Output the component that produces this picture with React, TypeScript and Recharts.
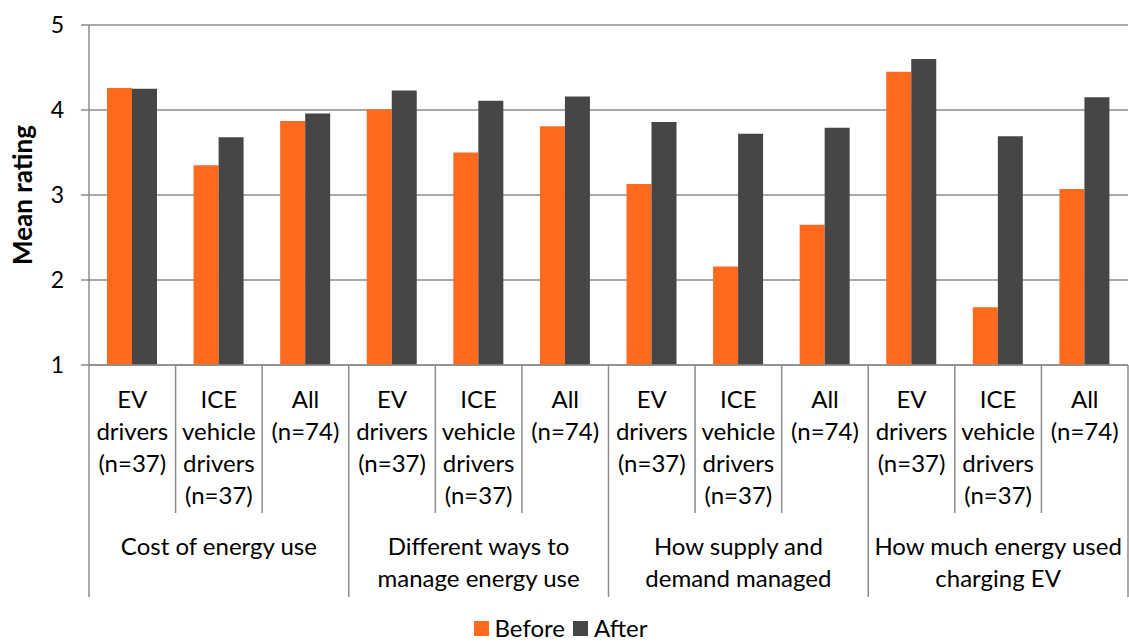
import React from "react";
import { BarChart, Bar, XAxis, YAxis, CartesianGrid, Legend } from "recharts";

const subLabels = [
  ["EV", "drivers", "(n=37)"],
  ["ICE", "vehicle", "drivers", "(n=37)"],
  ["All", "(n=74)"],
];

const groupLabels = [
  ["Cost of energy use"],
  ["Different ways to", "manage energy use"],
  ["How supply and", "demand managed"],
  ["How much energy used", "charging EV"],
];

const beforeValues = [4.26, 3.35, 3.87, 4.01, 3.5, 3.81, 3.13, 2.16, 2.65, 4.45, 1.68, 3.07];
const afterValues = [4.25, 3.68, 3.96, 4.23, 4.11, 4.16, 3.86, 3.72, 3.79, 4.6, 3.69, 4.15];

const yTicks = [1, 2, 3, 4, 5];

const series = [
  { key: "Before", color: "#ff6a1e" },
  { key: "After", color: "#464646" },
];

const data = groupLabels.flatMap((g, gi) =>
  subLabels.map((s, si) => {
    const i = gi * subLabels.length + si;
    return {
      cat: `${g.join(" ")} | ${s.join(" ")}`,
      Before: beforeValues[i],
      After: afterValues[i],
    };
  })
);

const FONT = "Lato, 'Open Sans', sans-serif";
const GREY = "#8c8c8c";
const BAND = 1039 / 12;

const CategoryTick = (props: any) => {
  const { x, y, index } = props;
  const half = props.payload?.offset || BAND / 2;
  const sub = subLabels[index % 3];
  const isGroupStart = index % 3 === 0;
  const isLast = index === data.length - 1;
  const group = groupLabels[Math.floor(index / 3)];
  return (
    <g>
      <line
        x1={x - half}
        x2={x - half}
        y1={y}
        y2={y + (isGroupStart ? 232 : 148)}
        stroke={GREY}
        strokeWidth={1.5}
      />
      {isLast && (
        <line x1={x + half} x2={x + half} y1={y} y2={y + 232} stroke={GREY} strokeWidth={1.5} />
      )}
      <text x={x} y={y + 43} textAnchor="middle" fontSize={24} fontFamily={FONT} fill="#000">
        {sub.map((t, k) => (
          <tspan key={k} x={x} dy={k === 0 ? 0 : 32}>
            {t}
          </tspan>
        ))}
      </text>
      {index % 3 === 1 && (
        <text x={x} y={y + 190} textAnchor="middle" fontSize={24} fontFamily={FONT} fill="#000">
          {group.map((t, k) => (
            <tspan key={k} x={x} dy={k === 0 ? 0 : 32}>
              {t}
            </tspan>
          ))}
        </text>
      )}
    </g>
  );
};

const LegendContent = () => (
  <div style={{ display: "flex", justifyContent: "center", alignItems: "center", fontSize: 24, fontFamily: FONT, color: "#000", lineHeight: "28px" }}>
    {series.map((s) => (
      <div key={s.key} style={{ display: "flex", alignItems: "center", marginRight: 8 }}>
        <span style={{ display: "inline-block", width: 15, height: 15, background: s.color, marginRight: 6 }} />
        <span>{s.key}</span>
      </div>
    ))}
  </div>
);

export default function App() {
  return (
    <div style={{ position: "absolute", left: 0, top: 0, width: 1129, height: 643, overflow: "hidden", background: "#fff" }}>
      <BarChart
        width={1129}
        height={643}
        data={data}
        margin={{ top: 25, right: 1, left: 0, bottom: 0 }}
        barGap={0}
        barSize={25}
      >
        <CartesianGrid vertical={false} stroke={GREY} strokeWidth={1.5} />
        <XAxis
          dataKey="cat"
          interval={0}
          height={278}
          tickLine={false}
          tickSize={0}
          tickMargin={0}
          axisLine={{ stroke: GREY, strokeWidth: 1.5 }}
          tick={<CategoryTick />}
        />
        <YAxis
          domain={[1, 5]}
          ticks={yTicks}
          width={89}
          tickSize={8}
          tickMargin={17}
          axisLine={{ stroke: GREY, strokeWidth: 1.5 }}
          tickLine={{ stroke: GREY, strokeWidth: 1.5 }}
          tick={{ fontSize: 23, fontFamily: FONT, fill: "#000" }}
          label={{
            content: (p: any) => {
              const vb = p.viewBox || {};
              const cy = (vb.y ?? 25) + (vb.height ?? 340) / 2;
              return (
                <text
                  x={22}
                  y={cy}
                  transform={`rotate(-90 22 ${cy})`}
                  textAnchor="middle"
                  dominantBaseline="central"
                  fontSize={26}
                  fontWeight="bold"
                  fontFamily={FONT}
                  fill="#000"
                >
                  Mean rating
                </text>
              );
            },
          }}
        />
        <Legend
          layout="horizontal"
          align="center"
          verticalAlign="middle"
          wrapperStyle={{ top: 614, left: 0, width: 1129 }}
          content={<LegendContent />}
        />
        {series.map((s) => (
          <Bar key={s.key} dataKey={s.key} fill={s.color} isAnimationActive={false} />
        ))}
      </BarChart>
    </div>
  );
}
